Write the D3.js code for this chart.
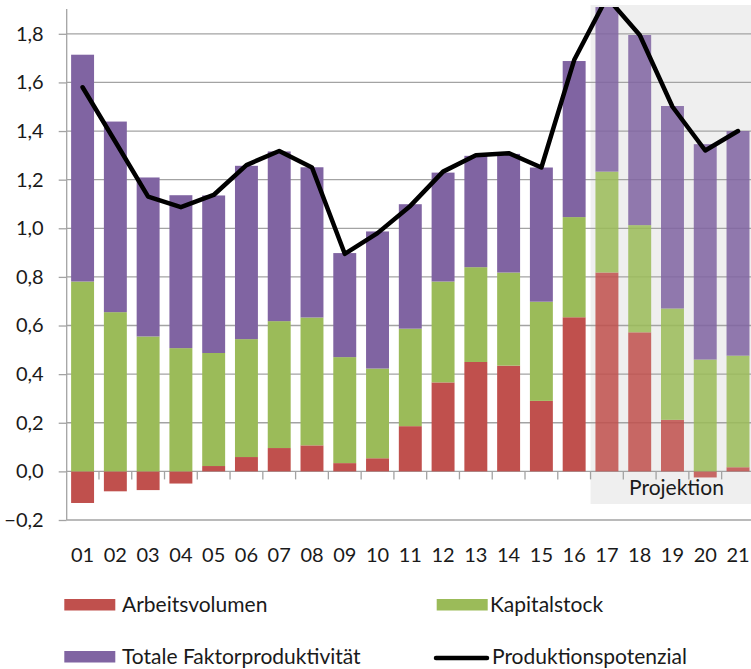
<!DOCTYPE html>
<html>
<head>
<meta charset="utf-8">
<script src="https://cdn.jsdelivr.net/npm/d3@7"></script>
<style>
  body { margin: 0; background: #fff; }
  text { font-family: Lato, "Open Sans", sans-serif; fill: #1a1a1a; }
</style>
</head>
<body>
<div id="chart"></div>
<script>
// ====================== data ======================
var years = ["01","02","03","04","05","06","07","08","09","10","11",
             "12","13","14","15","16","17","18","19","20","21"];

var arbeitsvolumen = [-0.13, -0.082, -0.077, -0.05, 0.022, 0.059, 0.096, 0.107, 0.034, 0.054, 0.186,
                      0.366, 0.45, 0.435, 0.29, 0.634, 0.818, 0.572, 0.212, -0.025, 0.017];

var kapitalstock = [0.781, 0.655, 0.555, 0.507, 0.465, 0.485, 0.522, 0.526, 0.436, 0.369, 0.401,
                    0.415, 0.39, 0.383, 0.408, 0.412, 0.415, 0.441, 0.458, 0.46, 0.459];

var tfp = [0.933, 0.784, 0.654, 0.629, 0.648, 0.713, 0.698, 0.618, 0.428, 0.564, 0.512,
           0.448, 0.458, 0.488, 0.552, 0.642, 0.68, 0.782, 0.833, 0.886, 0.924];

var potenzial = [1.58, 1.356, 1.13, 1.087, 1.137, 1.26, 1.318, 1.25, 0.895, 0.98, 1.092,
                 1.233, 1.30, 1.309, 1.25, 1.692, 1.95, 1.795, 1.50, 1.32, 1.40];

var yTicks = [-0.2, 0, 0.2, 0.4, 0.6, 0.8, 1.0, 1.2, 1.4, 1.6, 1.8];

var firstProjection = "17";
var projectionLabel = "Projektion";

var legendLabels = ["Arbeitsvolumen", "Kapitalstock", "Totale Faktorproduktivität", "Produktionspotenzial"];

// ====================== setup ======================
var width  = 751,
    height = 669;

var colors = {
    red:    "#c0504d",
    green:  "#9bbb59",
    purple: "#8064a2"
};

var svg = d3.select("#chart").append("svg")
    .attr("width", width)
    .attr("height", height);

var x = d3.scaleBand()
    .domain(years)
    .range([66.2, 754.4])
    .paddingInner(0.3)
    .paddingOuter(0.15);

var y = d3.scaleLinear()
    .domain([-0.2, 1.8])
    .range([520, 33.8]);

var fmt = function(v){ return d3.format(".1f")(v).replace(".", ","); };

var axisX = 66.7;

// clip for bars + line (the line leaves the plot at the 17 peak)
svg.append("clipPath").attr("id", "plotClip")
    .append("rect")
    .attr("x", axisX).attr("y", 7)
    .attr("width", width - axisX).attr("height", 520 - 7);

// projection shading
var projStart = x.range()[0] + years.indexOf(firstProjection) * x.step();
svg.append("rect")
    .attr("x", projStart)
    .attr("y", 5)
    .attr("width", width - projStart)
    .attr("height", 504 - 5)
    .attr("fill", "#efefef");

// gridlines
svg.append("g").selectAll("line")
    .data(yTicks).enter()
    .append("line")
    .attr("x1", axisX).attr("x2", width)
    .attr("y1", d => y(d)).attr("y2", d => y(d))
    .attr("stroke", "#a3a3a3")
    .attr("stroke-width", 1.3);

// y axis
var yAxis = svg.append("g")
    .attr("transform", "translate(" + axisX + ",0)")
    .call(d3.axisLeft(y).tickValues(yTicks).tickFormat(fmt).tickSize(8).tickPadding(15));

yAxis.select(".domain").remove();
yAxis.append("line")
    .attr("x1", 0).attr("x2", 0)
    .attr("y1", 9).attr("y2", y(-0.2))
    .attr("stroke", "#a3a3a3").attr("stroke-width", 1.3);
yAxis.selectAll(".tick line").attr("stroke", "#a3a3a3").attr("stroke-width", 1.3);
yAxis.selectAll(".tick text")
    .style("font-family", "Lato, 'Open Sans', sans-serif")
    .style("font-size", "20px")
    .attr("fill", "#1a1a1a");

// ====================== stacked bars ======================
var rows = years.map((yr, i) => ({
    year: yr,
    proj: i >= years.indexOf(firstProjection),
    a: arbeitsvolumen[i],
    k: kapitalstock[i],
    t: tfp[i]
}));

var bars = svg.append("g").attr("clip-path", "url(#plotClip)");

rows.forEach(function(d){
    var base = Math.max(d.a, 0);
    var segs = [
        {lo: Math.min(d.a, 0), hi: base, c: colors.red},
        {lo: base, hi: base + d.k, c: colors.green},
        {lo: base + d.k, hi: base + d.k + d.t, c: colors.purple}
    ];
    segs.forEach(function(s){
        bars.append("rect")
            .attr("x", x(d.year))
            .attr("width", x.bandwidth())
            .attr("y", y(s.hi))
            .attr("height", y(s.lo) - y(s.hi))
            .attr("fill", s.c)
            .attr("fill-opacity", d.proj ? 0.86 : 1);
    });
});

// ticks on the zero line between categories
svg.append("g").selectAll("line")
    .data(d3.range(1, years.length)).enter()
    .append("line")
    .attr("x1", k => x.range()[0] + k * x.step())
    .attr("x2", k => x.range()[0] + k * x.step())
    .attr("y1", y(0)).attr("y2", y(0) + 8)
    .attr("stroke", "#a3a3a3").attr("stroke-width", 1.3);

// line: Produktionspotenzial
var line = d3.line()
    .x((d, i) => x(years[i]) + x.bandwidth() / 2)
    .y(d => y(d));

svg.append("path")
    .datum(potenzial)
    .attr("clip-path", "url(#plotClip)")
    .attr("d", line)
    .attr("fill", "none")
    .attr("stroke", "#000")
    .attr("stroke-width", 4.5)
    .attr("stroke-linejoin", "round")
    .attr("stroke-linecap", "round");

// projection label
svg.append("text")
    .attr("x", 676.5)
    .attr("y", 495)
    .attr("text-anchor", "middle")
    .style("font-size", "21px")
    .text(projectionLabel);

// x labels
svg.append("g").selectAll("text")
    .data(years).enter()
    .append("text")
    .attr("x", d => x(d) + x.bandwidth() / 2)
    .attr("y", 562)
    .attr("text-anchor", "middle")
    .style("font-size", "20px")
    .text(d => d);

// ====================== legend ======================
var legend = [
    {label: legendLabels[0], type: "rect", c: colors.red,    sx: 64.3, tx: 122, ty: 612},
    {label: legendLabels[1], type: "rect", c: colors.green,  sx: 436.7, tx: 490, ty: 612},
    {label: legendLabels[2], type: "rect", c: colors.purple, sx: 64.3, tx: 122, ty: 664},
    {label: legendLabels[3], type: "line", c: "#000",        sx: 436, tx: 492, ty: 664}
];

var lg = svg.append("g");
legend.forEach(function(d){
    if (d.type == "rect") {
        lg.append("rect")
            .attr("x", d.sx).attr("y", d.ty - 13)
            .attr("width", 51).attr("height", 11.5)
            .attr("fill", d.c);
    } else {
        lg.append("line")
            .attr("x1", d.sx).attr("x2", d.sx + 51)
            .attr("y1", d.ty - 6).attr("y2", d.ty - 6)
            .attr("stroke", d.c).attr("stroke-width", 4.5)
            .attr("stroke-linecap", "round");
    }
    lg.append("text")
        .attr("x", d.tx).attr("y", d.ty)
        .style("font-size", "21px")
        .text(d.label);
});
</script>
</body>
</html>
